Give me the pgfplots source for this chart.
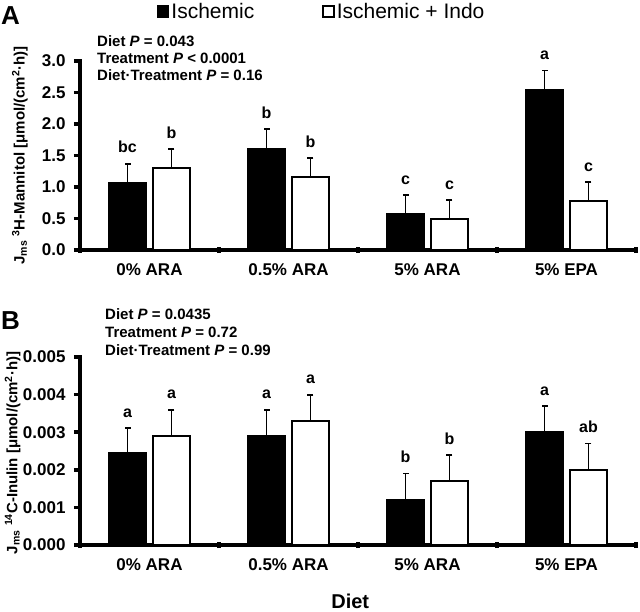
\documentclass[border=0pt]{standalone}
\usepackage{fontspec}
\setmainfont{Liberation Sans}
\usepackage{pgfplots}
\pgfplotsset{compat=1.18}
\begin{document}
\begin{tikzpicture}[x=1pt,y=1pt]
\path[use as bounding box] (0,0) rectangle (640,611);
\pgfplotsset{
  myax/.style={
    scale only axis, width=556pt, height=189pt,
    xmin=0.5, xmax=4.5, ymin=0,
    axis lines*=left,
    axis line style={line width=4pt, line cap=rect},
    xtick={0.5,1.5,2.5,3.5,4.5}, xticklabels={},
    extra x ticks={1,2,3,4},
    extra x tick labels={0\% ARA,0.5\% ARA,5\% ARA,5\% EPA},
    extra x tick style={major tick length=0pt, tick label style={yshift=-10pt}},
    xtick align=center, ytick align=outside,
    major tick length=6pt,
    tick style={line width=3.5pt, black},
    tick label style={font=\fontsize{17}{20}\selectfont\bfseries},
    yticklabel style={xshift=-5pt},
    /pgf/number format/assume math mode=true,
    scaled y ticks=false,
    ylabel style={anchor=center, font=\fontsize{15}{18}\selectfont\bfseries},
    clip=false,
  },
  blk/.style={ybar, bar width=37pt, bar shift=-22pt, fill=black, draw=black, line width=1.5pt},
  wht/.style={ybar, bar width=37pt, bar shift=22pt, fill=white, draw=black, line width=1.5pt},
  errb/.style={forget plot, draw=none, mark=none,
    error bars/.cd, y dir=plus, y explicit, error mark=none,
    error bar style={draw=black, line width=1.4pt, solid}},
  caps/.style={forget plot, only marks, mark=-, mark size=3pt,
    mark options={line width=1.8pt, black, solid}},
  lett/.style={forget plot, draw=none, mark=none,
    nodes near coords, point meta=explicit symbolic,
    every node near coord/.append style={anchor=south, font=\fontsize{16}{19}\selectfont\bfseries, yshift=7pt}},
}
% Panel A
\begin{axis}[myax, at={(80pt,361pt)}, anchor=south west,
  ymax=3, ytick={0,0.5,1,1.5,2,2.5,3},
  yticklabel style={/pgf/number format/.cd, fixed, fixed zerofill, precision=1},
  ylabel={J\textsubscript{ms} \textsuperscript{3}H-Mannitol [μmol/(cm\textsuperscript{2}·h)]},
  ylabel style={at={(axis description cs:-0.108,0.5)}},
  legend columns=2,
  legend style={at={(axis description cs:0.138,1.262)}, anchor=west, draw=none, fill=none,
    font=\fontsize{21}{24}\selectfont, inner sep=0pt,
    /tikz/every even column/.append style={column sep=66pt}},
  legend image code/.code={\draw[#1, line width=1.5pt] (0pt,-5.5pt) rectangle (11pt,5.5pt);},
]
\addplot[blk] table[x=x, y=y] {
x y
1 1.06
2 1.60
3 0.57
4 2.55
};
\addlegendentry{Ischemic}
\addplot[wht] table[x=x, y=y] {
x y
1 1.30
2 1.16
3 0.49
4 0.78
};
\addlegendentry{Ischemic + Indo}
% error bars (black bars at x-0.158, white bars at x+0.158)
\addplot[errb] table[x=x, y=y, y error=e] {
x y e
0.842 1.06 0.31
1.842 1.60 0.32
2.842 0.57 0.30
3.842 2.55 0.30
1.158 1.30 0.30
2.158 1.16 0.30
3.158 0.49 0.30
4.158 0.78 0.30
};
\addplot[caps] table[x=x, y=t] {
x t
0.842 1.37
1.842 1.92
2.842 0.87
3.842 2.85
1.158 1.60
2.158 1.46
3.158 0.79
4.158 1.08
};
\addplot[lett] table[x=x, y=t, meta=l] {
x t l
0.842 1.37 bc
1.842 1.92 b
2.842 0.87 c
3.842 2.85 a
1.158 1.60 b
2.158 1.46 b
3.158 0.79 c
4.158 1.08 c
};
\end{axis}
% Panel B
\begin{axis}[myax, at={(80pt,66pt)}, anchor=south west, height=188pt,
  ymax=0.005, ytick={0,0.001,0.002,0.003,0.004,0.005},
  yticklabel style={/pgf/number format/.cd, fixed, fixed zerofill, precision=3},
  ylabel={J\textsubscript{ms} \textsuperscript{14}C-Inulin [μmol/(cm\textsuperscript{2}·h)]},
  ylabel style={at={(axis description cs:-0.121,0.49)}},
  xlabel={Diet},
  xlabel style={at={(axis description cs:0.486,-0.298)}, anchor=center, inner sep=0pt, font=\fontsize{20}{24}\selectfont\bfseries},
]
\addplot[blk] table[x=x, y=y] {
x y
1 0.00245
2 0.0029
3 0.0012
4 0.0030
};
\addplot[wht] table[x=x, y=y] {
x y
1 0.0029
2 0.0033
3 0.0017
4 0.0020
};
\addplot[errb] table[x=x, y=y, y error=e] {
x y e
0.842 0.00245 0.00066
1.842 0.0029 0.0007
2.842 0.0012 0.0007
3.842 0.0030 0.0007
1.158 0.0029 0.0007
2.158 0.0033 0.0007
3.158 0.0017 0.0007
4.158 0.0020 0.0007
};
\addplot[caps] table[x=x, y=t] {
x t
0.842 0.00311
1.842 0.0036
2.842 0.0019
3.842 0.0037
1.158 0.0036
2.158 0.0040
3.158 0.0024
4.158 0.0027
};
\addplot[lett] table[x=x, y=t, meta=l] {
x t l
0.842 0.00311 a
1.842 0.0036 a
2.842 0.0019 b
3.842 0.0037 a
1.158 0.0036 a
2.158 0.0040 a
3.158 0.0024 b
4.158 0.0027 ab
};
\end{axis}
% panel letters and statistics
\node[anchor=base west, inner sep=0pt, font=\fontsize{26}{30}\selectfont\bfseries] at (1,586) {A};
\node[anchor=base west, inner sep=0pt, font=\fontsize{26}{30}\selectfont\bfseries] at (1,281) {B};
\begin{scope}[every node/.style={anchor=base west, inner sep=0pt, font=\fontsize{15}{18}\selectfont\bfseries}]
\node at (97,564) {Diet \textit{P} = 0.043};
\node at (97,547) {Treatment \textit{P} < 0.0001};
\node at (97,530) {Diet·Treatment \textit{P} = 0.16};
\node at (105,291) {Diet \textit{P} = 0.0435};
\node at (105,273) {Treatment \textit{P} = 0.72};
\node at (105,255) {Diet·Treatment \textit{P} = 0.99};
\end{scope}
\end{tikzpicture}
\end{document}
